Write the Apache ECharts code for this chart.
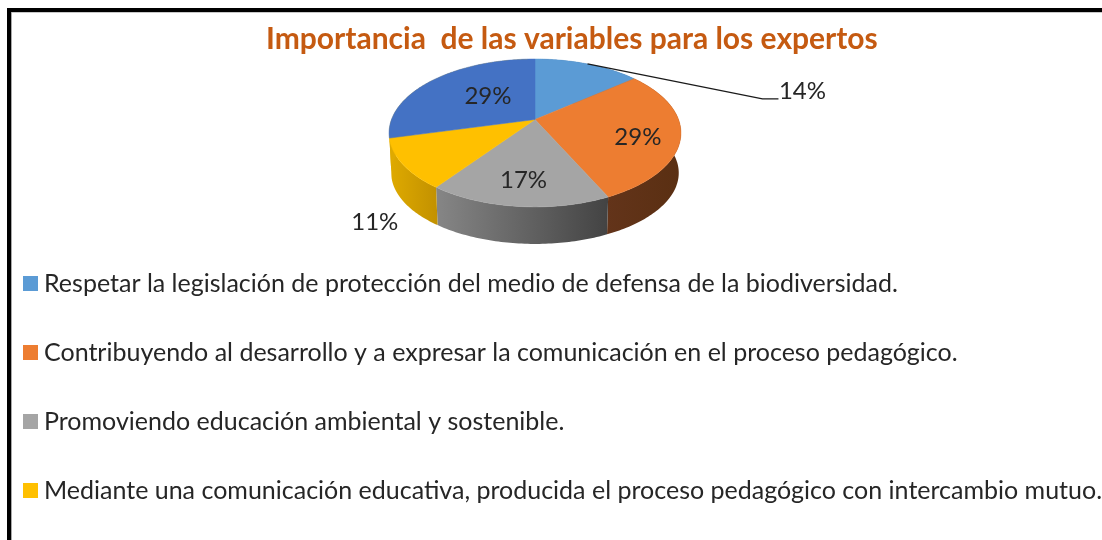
<!DOCTYPE html>
<html>
<head>
<meta charset="utf-8">
<style>html,body{margin:0;padding:0;background:#fff}#c{width:1102px;height:540px}</style>
<script src="https://cdn.jsdelivr.net/npm/echarts@6/dist/echarts.min.js"></script>
</head>
<body>
<div id="c"></div>
<script>
// ---- data ----
const chartTitle = 'Importancia  de las variables para los expertos';
const categories = [
  'Respetar la legislación de protección del medio de defensa de la biodiversidad.',
  'Contribuyendo al desarrollo y a expresar la comunicación en el proceso pedagógico.',
  'Promoviendo educación ambiental y sostenible.',
  'Mediante una comunicación educativa, producida el proceso pedagógico con intercambio mutuo.',
  'Otra variable'
];
const shares = [14, 29, 17, 11, 29];
const legendCount = 4;

// ---- styles ----
const topColors = ['#5b9bd5', '#ed7d31', '#a5a5a5', '#ffc000', '#4472c4'];
const sideColors = [
  ['#3a6a96', '#3a6a96'], ['#63341a', '#5a2f12'], ['#868686', '#434343'],
  ['#dfaa00', '#c29100'], ['#dfaa00', '#dfaa00']
];
// label offset from the middle of each slice's rim
const labelOffsets = [[215, 27], [-43, 2], [5, -26], [-28, 58], [55, 16]];
const FONT = 'Lato, "Open Sans", sans-serif';
const pie = { cx: 535, cy: 119.5, R: 143.5, S: 71.5, k: 0.182, depth: 40.5, xScale: 0.985, yScale: 0.96 };

function project(pct, base) {
  const a = pct / 100 * 2 * Math.PI, u = Math.sin(a), v = -Math.cos(a), d = 1 - pie.k * v;
  return base
    ? [pie.cx + pie.xScale * pie.R * u / d, pie.cy + pie.depth + pie.yScale * pie.S * v / d]
    : [pie.cx + pie.R * u / d, pie.cy + pie.S * v / d];
}
function arc(from, to, base) {
  const pts = [], n = Math.max(2, Math.ceil((to - from) * 3.6));
  for (let i = 0; i <= n; i++) pts.push(project(from + (to - from) * i / n, base));
  return pts;
}
function renderSlice(idx) {
  return function (params, api) {
    const from = api.value(0), to = api.value(1), mid = (from + to) / 2;
    const rim = project(mid, false);
    const top = arc(from, to, false);
    const side = top.concat(arc(from, to, true).reverse());
    const xs = side.map(p => p[0]);
    const lx = rim[0] + labelOffsets[idx][0], ly = rim[1] + labelOffsets[idx][1];
    const children = [
      { type: 'polygon', z2: 1, shape: { points: side }, style: {
          fill: { type: 'linear', x: Math.min(...xs), y: 0, x2: Math.max(...xs), y2: 0, global: true,
                  colorStops: [{ offset: 0, color: sideColors[idx][0] }, { offset: 1, color: sideColors[idx][1] }] } } },
      { type: 'polygon', z2: 2, shape: { points: [[pie.cx, pie.cy]].concat(top) },
        style: { fill: topColors[idx], stroke: topColors[idx], lineWidth: 0.5 } },
      { type: 'text', z2: 5, style: { text: Math.round(to - from) + '%', x: lx, y: ly, align: 'center', verticalAlign: 'middle',
          fill: '#262626', font: '24px ' + FONT } }
    ];
    if (idx === 0) {
      children.push({ type: 'polyline', z2: 4, shape: { points: [rim, [lx - 40, ly + 8], [lx - 24, ly + 8]] },
        style: { fill: null, stroke: '#1a1a1a', lineWidth: 1.2 } });
    }
    return { type: 'group', children };
  };
}

let cum = 0;
const series = shares.map((s, i) => {
  const from = cum; cum += s;
  return {
    type: 'custom', name: categories[i], coordinateSystem: 'none',
    itemStyle: { color: topColors[i] }, silent: true,
    data: [[from, cum]], renderItem: renderSlice(i)
  };
});

const chart = echarts.init(document.getElementById('c'), null, { renderer: 'canvas' });
chart.setOption({
  animation: false,
  backgroundColor: '#ffffff',
  title: {
    text: chartTitle, left: 261, top: 19,
    textStyle: { color: '#c55a11', fontFamily: FONT, fontSize: 30, fontWeight: 'bold' }
  },
  legend: {
    orient: 'vertical', left: 23, top: 271, icon: 'rect', itemWidth: 15, itemHeight: 15, itemGap: 44, padding: 0,
    selectedMode: false, data: categories.slice(0, legendCount),
    textStyle: { color: '#262626', fontFamily: FONT, fontSize: 25, padding: [0, 0, 0, 1] }
  },
  graphic: [
    { type: 'rect', shape: { x: 7, y: 8, width: 1095, height: 4 }, style: { fill: '#000' } },
    { type: 'rect', shape: { x: 7, y: 8, width: 4, height: 532 }, style: { fill: '#000' } },
    { type: 'rect', shape: { x: 11, y: 12, width: 1091, height: 1 }, style: { fill: '#c8c8c8' } },
    { type: 'rect', shape: { x: 11, y: 12, width: 1, height: 528 }, style: { fill: '#a8a8a8' } }
  ],
  series
});
</script>
</body>
</html>
